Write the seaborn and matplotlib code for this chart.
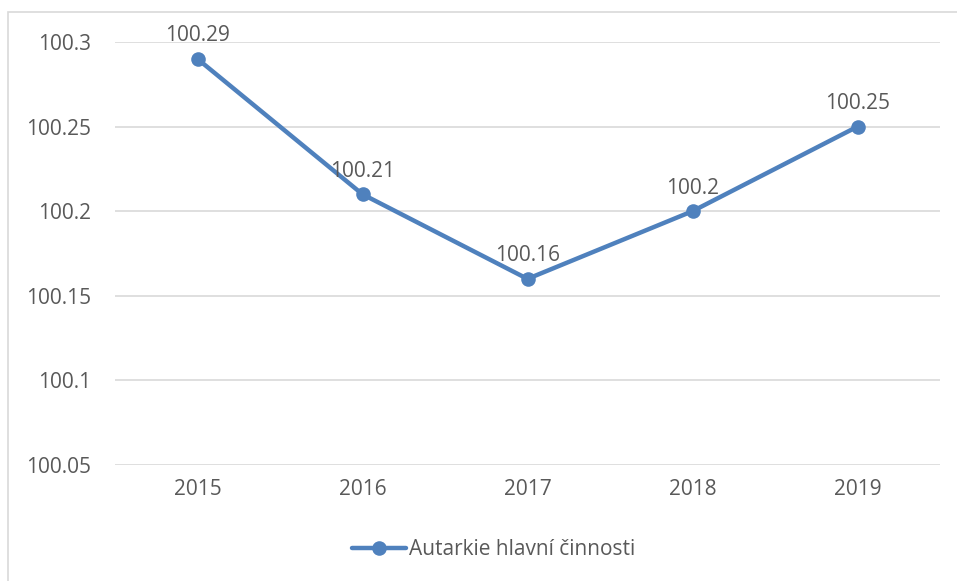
import pandas as pd
import matplotlib
matplotlib.use("Agg")
import matplotlib.pyplot as plt
import seaborn as sns
from matplotlib.patches import Rectangle

years = ["2015", "2016", "2017", "2018", "2019"]
values = [100.29, 100.21, 100.16, 100.2, 100.25]
series_name = "Autarkie hlavní činnosti"

y_ticks = [100.05, 100.1, 100.15, 100.2, 100.25, 100.3]
y_tick_labels = ["100.05", "100.1", "100.15", "100.2", "100.25", "100.3"]

df = pd.DataFrame({"year": years, "value": values, "series": series_name})

sns.set_style("white")
plt.rcParams["font.family"] = ["Open Sans", "DejaVu Sans"]

text_color = "#595959"
line_color = "#4f81bd"
grid_color = "#d9d9d9"
fs = 15

fig = plt.figure(figsize=(9.57, 5.81), dpi=100)
ax = fig.add_axes([115 / 957, 1 - 465 / 581, 825 / 957, (465 - 42) / 581])

# chart border like the Excel chart area
fig.patches.append(Rectangle((8 / 957, -0.1), 1.2, 1.1 - 12 / 581,
                             transform=fig.transFigure, fill=False,
                             edgecolor=grid_color, linewidth=1.2))

sns.lineplot(data=df, x="year", y="value", hue="series", palette=[line_color],
             marker="o", markersize=10.5, markeredgewidth=0, linewidth=3.2,
             sort=False, ax=ax)

for i, v in enumerate(values):
    ax.annotate(f"{v:g}", (i, v), xytext=(0, 9), textcoords="offset points",
                ha="center", va="bottom", fontsize=fs, color=text_color)

ax.set_xlim(-0.5, len(years) - 0.5)
ax.set_ylim(100.05, 100.3)
ax.set_yticks(y_ticks)
ax.set_yticklabels(y_tick_labels)
ax.yaxis.grid(True, color=grid_color, linewidth=1.2)
ax.set_axisbelow(True)
for s in ax.spines.values():
    s.set_visible(False)
ax.tick_params(axis="both", length=0, labelsize=fs, colors=text_color)
ax.tick_params(axis="y", pad=17)
ax.tick_params(axis="x", pad=10)
ax.set_xlabel("")
ax.set_ylabel("")

leg = ax.legend(loc="center", bbox_to_anchor=(0.459, -0.2), frameon=False,
                fontsize=fs, handlelength=2.6, handletextpad=0.15)
for t in leg.get_texts():
    t.set_color(text_color)

fig.savefig("out.png", dpi=100)
